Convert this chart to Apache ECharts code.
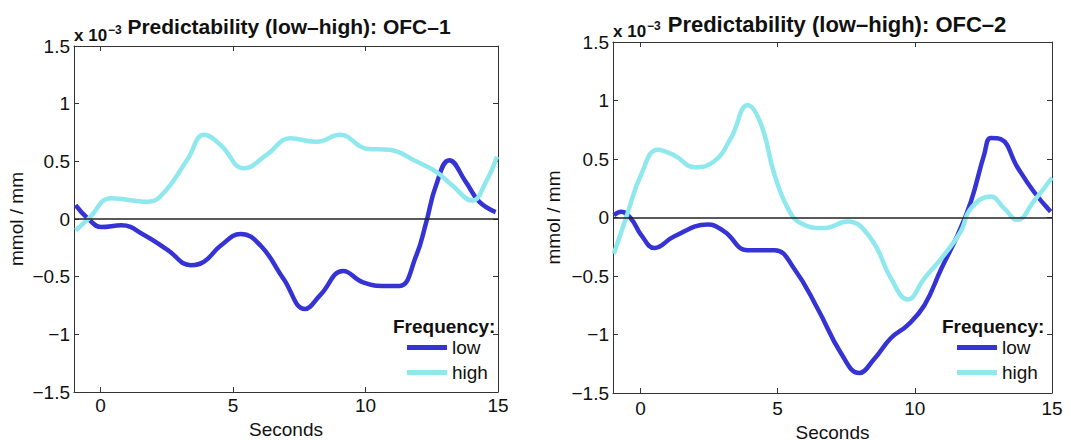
<!DOCTYPE html>
<html><head><meta charset="utf-8">
<script src="https://cdn.jsdelivr.net/npm/echarts@6/dist/echarts.min.js"></script>
<style>html,body{margin:0;padding:0;background:#fff}#c{width:1071px;height:440px}</style>
</head><body><div id="c"></div>
<script>
// Values in units of 1e-3 mmol/mm
const titles = ['Predictability (low\u2013high): OFC\u20131', 'Predictability (low\u2013high): OFC\u20132'];
const seriesNames = ['low', 'high'];
const xTickValues = [0, 5, 10, 15];

const low1T = [-0.94,-0.46,0.04,0.79,1.66,2.54,3.41,3.91,4.54,5.29,6.04,6.91,7.72,8.29,9.16,9.91,10.79,11.29,11.91,12.29,12.66,13.16,13.79,14.29,14.91];
const low1V = [0.12,0.0,-0.07,-0.055,-0.14,-0.27,-0.40,-0.37,-0.23,-0.13,-0.23,-0.52,-0.78,-0.66,-0.45,-0.55,-0.58,-0.58,-0.32,-0.03,0.29,0.51,0.32,0.15,0.06];

const high1T = [-0.94,-0.46,0.41,1.79,2.4,3.29,3.91,4.54,5.41,6.29,7.16,8.16,9.04,10.04,10.91,11.91,12.66,13.28,14.03,14.54,14.96];
const high1V = [-0.10,0.0,0.18,0.15,0.23,0.52,0.73,0.64,0.44,0.56,0.70,0.67,0.73,0.61,0.60,0.50,0.41,0.29,0.16,0.32,0.54];

const low2T = [-0.97,-0.70,-0.34,0.03,0.51,1.24,2.45,3.06,3.91,4.89,5.61,6.46,7.31,7.97,8.52,9.13,9.74,10.35,10.96,11.56,12.05,12.53,12.77,13.13,13.74,14.34,14.95];
const low2V = [0.02,0.05,-0.01,-0.15,-0.26,-0.16,-0.06,-0.12,-0.28,-0.28,-0.44,-0.78,-1.16,-1.33,-1.21,-1.03,-0.92,-0.75,-0.44,-0.15,0.14,0.54,0.68,0.67,0.43,0.22,0.05];

const high2T = [-0.97,-0.52,0.03,0.63,1.24,1.97,2.69,3.30,3.91,4.39,4.88,5.37,5.85,6.70,7.55,8.40,9.13,9.74,10.35,11.07,11.67,12.05,12.77,13.25,13.74,14.34,15.0];
const high2V = [-0.31,0.0,0.37,0.58,0.53,0.43,0.48,0.68,0.96,0.80,0.37,0.08,-0.05,-0.09,-0.035,-0.18,-0.52,-0.70,-0.52,-0.32,-0.12,0.08,0.18,0.08,-0.02,0.14,0.34];

const colors = {low: '#3633d4', high: '#8fe8ee'};
const font = '"Liberation Sans", Arial, Helvetica, sans-serif';
const axisCol = '#333';

function zip(t, v) { return t.map((x, i) => [x, v[i]]); }
function fmt(v) { const s = String(Math.abs(+v.toFixed(2))); return v < 0 ? '\u2212' + s : s; }

const grids = [
  {left: 74, top: 46, width: 424, height: 346, outerBoundsMode: 'none', containLabel: false},
  {left: 613, top: 42, width: 439, height: 351, outerBoundsMode: 'none', containLabel: false}
];
const freqOffset = [105, 110];
const legOffset = [91, 95];
const titleCenter = [289, 837];
const titleSize = [21, 22];
const titleTop = [16, 13];
const expTop = [24, 20];
const labelMargin = [4, 6];
const xNameGap = [23, 19];

const xAxes = [], yAxes = [];
grids.forEach((g, gi) => {
  xAxes.push({
    type: 'value', gridIndex: gi, position: 'bottom', min: -1, max: 15,
    name: 'Seconds', nameLocation: 'middle', nameGap: xNameGap[gi],
    nameTextStyle: {fontFamily: font, fontSize: 19, lineHeight: 19, color: '#111'},
    axisLine: {show: true, onZero: false, lineStyle: {color: axisCol, width: 1}},
    axisTick: {show: true, inside: true, length: 5, customValues: xTickValues, lineStyle: {color: axisCol}},
    axisLabel: {show: true, customValues: xTickValues, margin: labelMargin[gi], fontFamily: font, fontSize: 19, color: '#111'},
    splitLine: {show: false}
  });
  xAxes.push({
    type: 'value', gridIndex: gi, position: 'top', min: -1, max: 15,
    axisLine: {show: true, onZero: false, lineStyle: {color: axisCol, width: 1}},
    axisTick: {show: true, inside: true, length: 5, customValues: xTickValues, lineStyle: {color: axisCol}},
    axisLabel: {show: false},
    splitLine: {show: false}
  });
  yAxes.push({
    type: 'value', gridIndex: gi, position: 'left', min: -1.5, max: 1.5, interval: 0.5,
    name: 'mmol / mm', nameLocation: 'middle', nameGap: gi === 0 ? 48 : 50,
    nameTextStyle: {fontFamily: font, fontSize: 19, color: '#111'},
    axisLine: {show: true, onZero: false, lineStyle: {color: axisCol, width: 1}},
    axisTick: {show: true, inside: true, length: 5, lineStyle: {color: axisCol}},
    axisLabel: {show: true, margin: 4, fontFamily: font, fontSize: 19, color: '#111', formatter: fmt},
    splitLine: {show: false}
  });
  yAxes.push({
    type: 'value', gridIndex: gi, position: 'right', min: -1.5, max: 1.5, interval: 0.5,
    axisLine: {show: true, onZero: false, lineStyle: {color: axisCol, width: 1}},
    axisTick: {show: true, inside: true, length: 5, lineStyle: {color: axisCol}},
    axisLabel: {show: false},
    splitLine: {show: false}
  });
});

function lineSeries(name, t, v, gi, withZero) {
  const s = {
    name: name, type: 'line', xAxisIndex: gi * 2, yAxisIndex: gi * 2,
    data: zip(t, v), smooth: 0.45, showSymbol: false, symbol: 'none',
    lineStyle: {color: colors[name], width: 4.5},
    itemStyle: {color: colors[name]},
    emphasis: {disabled: true}, animation: false
  };
  if (withZero) {
    s.markLine = {
      silent: true, symbol: 'none', label: {show: false}, animation: false,
      lineStyle: {color: '#222', width: 1.6, type: 'solid'},
      data: [{yAxis: 0}]
    };
  }
  return s;
}

const series = [
  lineSeries('low', low1T, low1V, 0, false),
  lineSeries('high', high1T, high1V, 0, true),
  lineSeries('low', low2T, low2V, 1, false),
  lineSeries('high', high2T, high2V, 1, true)
];

const titleItems = [];
grids.forEach((g, gi) => {
  titleItems.push({
    text: titles[gi], left: titleCenter[gi], top: titleTop[gi], textAlign: 'center', padding: 0,
    textStyle: {fontFamily: font, fontSize: titleSize[gi], fontWeight: 'bold', color: '#111'}
  });
  titleItems.push({
    text: '{a|x 10}{b|\u22123}', left: g.left, top: expTop[gi], padding: 0,
    textStyle: {rich: {
      a: {fontFamily: font, fontSize: 17, color: '#111', lineHeight: 20, verticalAlign: 'bottom'},
      b: {fontFamily: font, fontSize: 12, color: '#111', lineHeight: 20, verticalAlign: 'top', padding: [0,0,9,1]}
    }}
  });
  titleItems.push({
    text: 'Frequency:', left: g.left + g.width - freqOffset[gi], top: 317, padding: 0,
    textStyle: {fontFamily: font, fontSize: 19, fontWeight: 'bold', color: '#111'}
  });
});

const legends = grids.map((g, gi) => ({
  orient: 'vertical', left: g.left + g.width - legOffset[gi], top: 337, padding: 0,
  data: seriesNames, icon: 'rect', itemWidth: 40, itemHeight: 5, itemGap: 4,
  selectedMode: false,
  textStyle: {fontFamily: font, fontSize: 19, color: '#111', lineHeight: 21}
}));

const chart = echarts.init(document.getElementById('c'), null, {renderer: 'svg'});
chart.setOption({
  animation: false,
  backgroundColor: '#fff',
  title: titleItems,
  legend: legends,
  grid: grids,
  xAxis: xAxes,
  yAxis: yAxes,
  series: series
});
</script></body></html>
